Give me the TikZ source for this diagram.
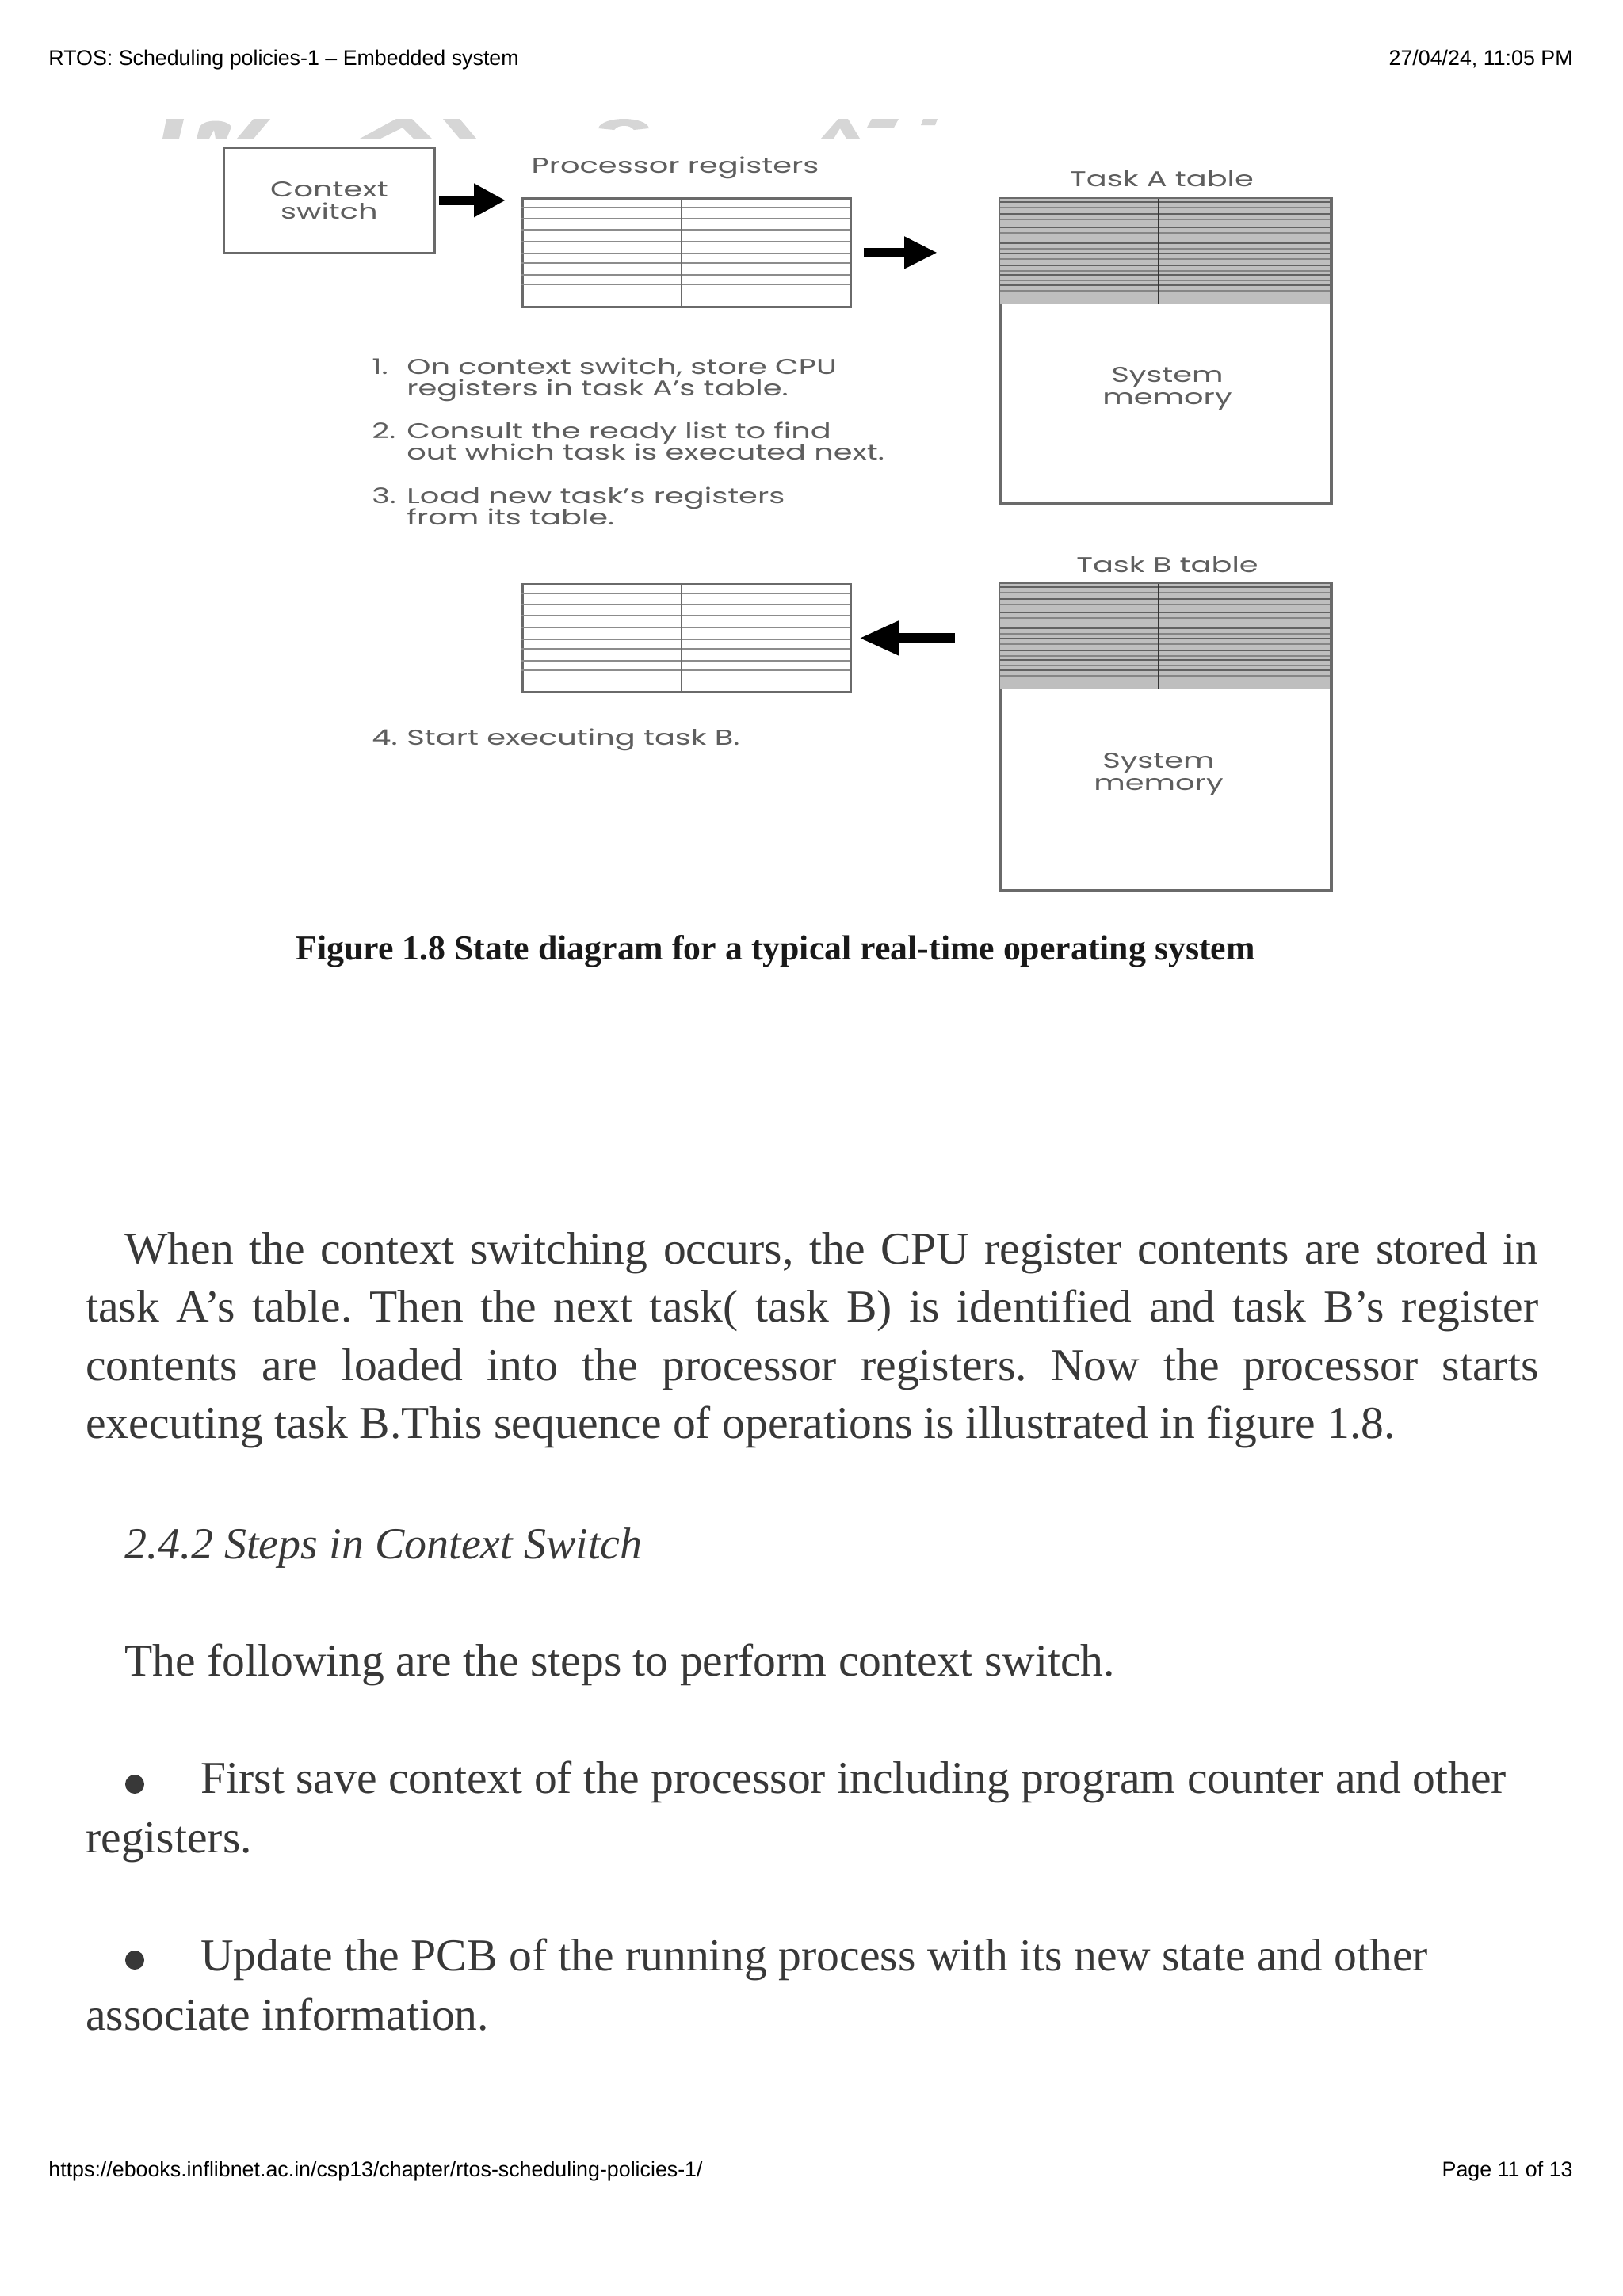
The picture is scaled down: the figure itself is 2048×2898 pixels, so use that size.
\documentclass[tikz,border=0pt]{standalone}
\usepackage{fontspec}
\setmainfont{Liberation Serif}
\newfontfamily\hdrfont{Liberation Sans}
\newfontfamily\diafont[FakeStretch=1.42]{Poppins}
\usetikzlibrary{arrows.meta}
\frenchspacing
\definecolor{txt}{HTML}{383838}
\definecolor{dia}{HTML}{5E5E5E}
\definecolor{boxc}{HTML}{6A6A6A}
\definecolor{rulec}{HTML}{8C8C8C}
\definecolor{shadec}{HTML}{BEBEBE}
\definecolor{wm}{HTML}{D6D6D6}
\tikzset{
  hdr/.style={font=\hdrfont\fontsize{13.4}{16}\selectfont, text=black, inner sep=0},
  bodyt/.style={font=\fontsize{28.8}{36}\selectfont, text=txt, inner sep=0, anchor=base west},
  dtext/.style={font=\diafont\fontsize{13.5}{14}\selectfont, text=dia, inner sep=0},
  pgbox/.style={draw=boxc, line width=1.4pt, inner sep=0, anchor=north west},
  barrow/.style={draw=black, line width=6pt, -{Triangle[length=20pt,width=20pt]}},
  bul/.style={circle, fill=txt, minimum size=12pt, inner sep=0},
}
\newcommand\regrows[4]{% x0, x1, ytop, divider x
  \foreach \o in {13,27,41,56,71,83,98,110}{
    \draw[rulec, line width=1.2pt] (#1,#3+\o) -- (#2,#3+\o);
  }
  \draw[boxc, line width=0.9pt] (#4,#3) -- (#4,#3+137);
}
\newcommand\taskrows[4]{% x0, x1, ytop, divider x
  \fill[shadec] (#1,#3) rectangle (#2,#3+134);
  \foreach \o in {5,20,37,57,70,85,97,110}{
    \draw[black!62, line width=1.1pt] (#1,#3+\o) -- (#2,#3+\o);
    \draw[black!48, line width=0.8pt] (#1,#3+\o+7) -- (#2,#3+\o+7);
  }
  \draw[black!80, line width=1pt] (#4,#3) -- (#4,#3+134);
}
\begin{document}
\begin{tikzpicture}[x=0.5pt,y=-0.5pt]
\useasboundingbox[fill=white] (0,0) rectangle (2048,2898);

% header / footer
\node[hdr, anchor=base west] (h1) at (61,82) {RTOS: Scheduling policies-1 – Embedded system};
\node[hdr, anchor=base east] (h2) at (1985,82) {27/04/24, 11:05 PM};
\node[hdr, anchor=base west] (f1) at (61,2747) {https://ebooks.inflibnet.ac.in/csp13/chapter/rtos-scheduling-policies-1/};
\node[hdr, anchor=base east] (f2) at (1985,2747) {Page 11 of 13};

% faint watermark remnants
\fill[wm] (210,150)--(232,150)--(226,175)--(205,175)--cycle;
\fill[wm] (248,175)--(252,160) .. controls (258,150) and (286,150) .. (292,160)--(286,175)--(272,175)--(270,164)--(264,175)--cycle;
\fill[wm] (320,150)--(341,150)--(320,175)--(299,175)--cycle;
\fill[wm] (500,150)--(520,150)--(545,175)--(522,175)--(508,161)--(480,175)--(454,175)--cycle;
\fill[wm] (559,150)--(580,150)--(601,175)--(580,175)--cycle;
\fill[wm] (755,162) .. controls (760,146) and (815,146) .. (819,162)--(800,164) .. controls (795,157) and (780,157) .. (775,164)--cycle;
\fill[wm] (1036,175)--(1058,150)--(1070,150)--(1085,175)--(1068,175)--(1060,162)--(1052,175)--cycle;
\fill[wm] (1100,150)--(1134,150)--(1128,161)--(1094,161)--cycle;
\fill[wm] (1165,150)--(1183,150)--(1180,158)--(1162,158)--cycle;

% context switch box
\node[pgbox, minimum width=133pt, minimum height=66.5pt, dtext, align=center] (ctx) at (281,185) {Context\\switch};

% processor registers (top)
\node[dtext, anchor=base] (plab) at (852,218) {Processor registers};
\node[pgbox, minimum width=207pt, minimum height=68.5pt] (regA) at (658,249) {};
\regrows{658}{1072}{249}{860}

% task A table
\node[dtext, anchor=base] (talab) at (1466,235) {Task A table};
\node[pgbox, minimum width=208.5pt, minimum height=192pt] (taskA) at (1261,250) {};
\taskrows{1261}{1678}{250}{1462}
\draw[boxc, line width=1.4pt] (taskA.north west) rectangle (taskA.south east);
\node[dtext, align=center] (memA) at (1473,490) {System\\memory};

% steps
\node[dtext, anchor=base west] (s1n) at (469,472) {1.};
\node[dtext, anchor=base west] (s1a) at (513,472) {On context switch, store CPU};
\node[dtext, anchor=base west] (s1b) at (513,499) {registers in task A’s table.};
\node[dtext, anchor=base west] (s2n) at (469,553) {2.};
\node[dtext, anchor=base west] (s2a) at (513,553) {Consult the ready list to find};
\node[dtext, anchor=base west] (s2b) at (513,580) {out which task is executed next.};
\node[dtext, anchor=base west] (s3n) at (469,635) {3.};
\node[dtext, anchor=base west] (s3a) at (513,635) {Load new task’s registers};
\node[dtext, anchor=base west] (s3b) at (513,662) {from its table.};
\node[dtext, anchor=base west] (s4n) at (469,940) {4.};
\node[dtext, anchor=base west] (s4a) at (513,940) {Start executing task B.};

% processor registers (bottom)
\node[pgbox, minimum width=207pt, minimum height=68pt] (regB) at (658,736) {};
\regrows{658}{1072}{736}{860}

% task B table
\node[dtext, anchor=base] (tblab) at (1473,722) {Task B table};
\node[pgbox, minimum width=208.5pt, minimum height=193pt] (taskB) at (1261,736) {};
\taskrows{1261}{1678}{736}{1462}
\draw[boxc, line width=1.4pt] (taskB.north west) rectangle (taskB.south east);
\node[dtext, align=center] (memB) at (1462,977) {System\\memory};

% arrows
\draw[barrow, shorten <=2pt, shorten >=10pt] (ctx.east) -- (ctx.east -| regA.west);
\draw[barrow, -{Triangle[length=21pt,width=19pt]}, shorten <=7.5pt, shorten >=39pt] (regA.east) -- (regA.east -| taskA.west);
\draw[barrow, line width=6.5pt, -{Triangle[length=25pt,width=20pt]}, shorten <=28pt, shorten >=4.5pt] (regB.east -| taskB.west) -- (regB.east);

% caption
\node[anchor=base west, inner sep=0, text=black!90] (cap) at (373,1211) {\resizebox{605pt}{15.5pt}{\bfseries Figure 1.8 State diagram for a typical real-time operating system}};

% body text
\node[bodyt] (p1a) at (157,1595) {\makebox[892pt][s]{When the context switching occurs, the CPU register contents are stored in}};
\node[bodyt] (p1b) at (108,1668) {\makebox[916.5pt][s]{task A’s table. Then the next task( task B) is identified and task B’s register}};
\node[bodyt] (p1c) at (108,1742) {\makebox[916.5pt][s]{contents are loaded into the processor registers. Now the processor starts}};
\node[bodyt] (p1d) at (108,1815) {executing task B.This sequence of operations is illustrated in figure 1.8.};
\node[bodyt, font=\fontsize{28}{36}\selectfont\itshape] (hd) at (157,1967) {2.4.2 Steps in Context Switch};
\node[bodyt] (p2) at (157,2115) {The following are the steps to perform context switch.};
\node[bul] (b1) at (170,2252) {};
\node[bodyt] (p3a) at (253,2263) {First save context of the processor including program counter and other};
\node[bodyt] (p3b) at (108,2338) {registers.};
\node[bul] (b2) at (170,2474) {};
\node[bodyt] (p4a) at (253,2487) {Update the PCB of the running process with its new state and other};
\node[bodyt] (p4b) at (108,2562) {associate information.};
\end{tikzpicture}
\end{document}
